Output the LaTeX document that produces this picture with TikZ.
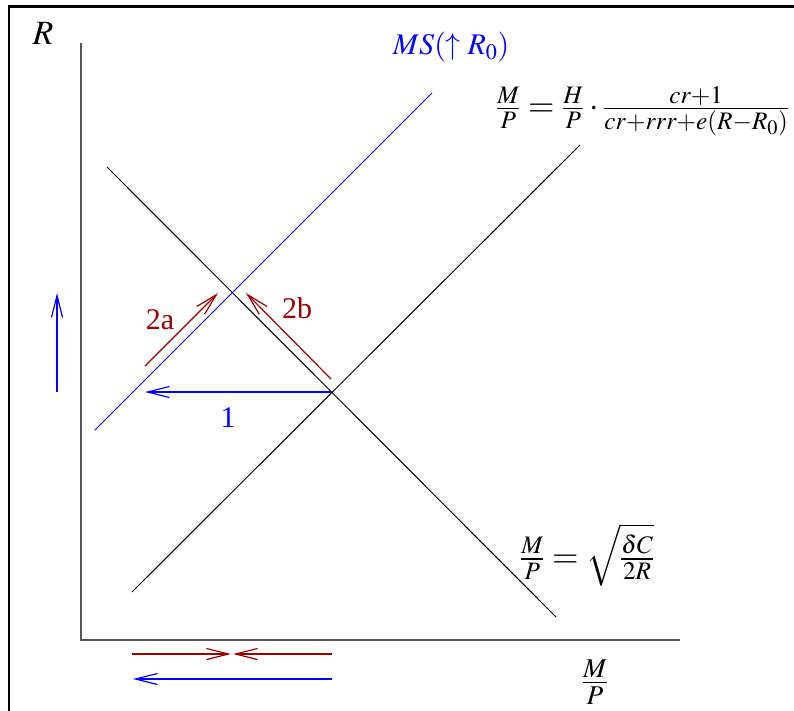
\documentclass[tikz,border=0pt]{standalone}
\usepackage{graphicx}
\usepackage{mathptmx}
\usepackage{fontspec}
\setmainfont{Liberation Serif}
\usetikzlibrary{arrows.meta}
\definecolor{dred}{RGB}{150,0,0}
\definecolor{axgray}{RGB}{85,85,85}
\begin{document}
\begin{tikzpicture}[x=1pt,y=-1pt,
  curve/.style={line width=1pt},
  bl/.style={blue, line width=1.2pt},
  rd/.style={dred, line width=1.2pt},
  tip/.style={-{Straight Barb[length=22pt,width=11pt,line width=1.2pt]}},
  lab/.style={font=\fontsize{30}{36}\selectfont, inner sep=0pt},
  eqlab/.style={font=\fontsize{34}{40}\selectfont, inner sep=0pt}
]
\useasboundingbox (0,0) rectangle (794,711);
% frame
\draw[line width=2.5pt] (9,711) -- (9,6.5) -- (794,6.5);
% axes
\coordinate (O) at (81,640);
\coordinate (ytop) at (81,43);
\coordinate (xend) at (680,640);
\draw[axgray, line width=1.8pt] (ytop) -- (O) -- (xend);
\node[lab, font=\fontsize{34}{40}\selectfont] (Rlab) at (43,33) {$R$};
% curves
\coordinate (ms1) at (95,430);
\coordinate (ms2) at (432,93);
\draw[bl, line width=1pt] (ms1) -- (ms2);
\coordinate (lm1) at (132,592);
\coordinate (lm2) at (580,145);
\draw[curve] (lm1) -- (lm2);
\coordinate (md1) at (107,167);
\coordinate (md2) at (556,617);
\draw[curve] (md1) -- (md2);
\node[lab, blue] (MSlab) at (451,47) {$MS(\uparrow R_0)$};
\node[eqlab, anchor=west] (eq1) at (496,111) {$\frac{M}{P}=\frac{H}{P}\cdot\frac{cr+1}{cr+rrr+e(R-R_0)}$};
\node[eqlab, anchor=west] (eq2) at (520,555) {$\frac{M}{P}=\sqrt{\frac{\delta C}{2R}}$};
\node[eqlab] (MPlab) at (595,682) {\scalebox{1.08}{$\frac{M}{P}$}};
% arrows in diagram
\coordinate (E0) at (331,392);
\coordinate (a1e) at (145,392);
\draw[bl, tip] (E0) -- (a1e);
\node[lab, blue] (one) at (228,418) {1};
\coordinate (a2s) at (145,366);
\coordinate (a2e) at (218,293);
\draw[rd, tip] (a2s) -- (a2e);
\node[lab, dred] (twoa) at (160,320) {2a};
\coordinate (b2s) at (331,379);
\coordinate (b2e) at (246,293);
\draw[rd, tip] (b2s) -- (b2e);
\node[lab, dred] (twob) at (297,308) {2b};
% left up arrow
\coordinate (u1) at (57,392);
\coordinate (u2) at (57,293);
\draw[bl, tip] (u1) -- (u2);
% bottom arrows
\coordinate (r1s) at (132,654);
\coordinate (r1e) at (231,654);
\draw[rd, tip] (r1s) -- (r1e);
\coordinate (r2s) at (332,654);
\coordinate (r2e) at (233,654);
\draw[rd, tip] (r2s) -- (r2e);
\coordinate (b1s) at (332,679);
\coordinate (b1e) at (133,679);
\draw[bl, tip] (b1s) -- (b1e);
\end{tikzpicture}
\end{document}
